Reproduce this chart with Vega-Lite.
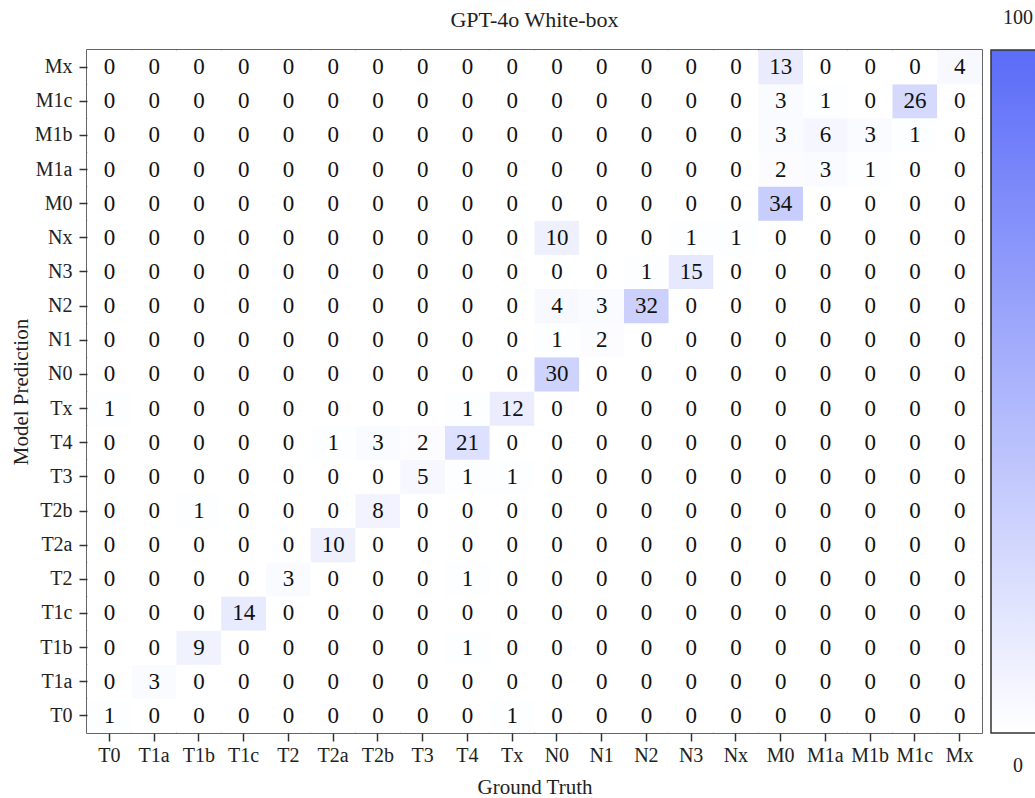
{
  "$schema": "https://vega.github.io/schema/vega-lite/v6.json",
  "autosize": {"type": "none"},
  "padding": {"left": 87, "top": 50, "right": 53, "bottom": 65},
  "width": 895,
  "height": 683,
  "background": "white",
  "title": {"text": "GPT-4o White-box", "font": "Liberation Serif", "fontSize": 22, "fontWeight": "normal", "color": "#222", "offset": 18, "anchor": "middle"},
  "config": {
    "view": {"stroke": "#333", "strokeWidth": 1.5},
    "font": "Liberation Serif"
  },
  "data": {"values": [
{"p":"T0","g":"T0","v":1},{"p":"T0","g":"T1a","v":0},{"p":"T0","g":"T1b","v":0},{"p":"T0","g":"T1c","v":0},{"p":"T0","g":"T2","v":0},{"p":"T0","g":"T2a","v":0},{"p":"T0","g":"T2b","v":0},{"p":"T0","g":"T3","v":0},{"p":"T0","g":"T4","v":0},{"p":"T0","g":"Tx","v":1},{"p":"T0","g":"N0","v":0},{"p":"T0","g":"N1","v":0},{"p":"T0","g":"N2","v":0},{"p":"T0","g":"N3","v":0},{"p":"T0","g":"Nx","v":0},{"p":"T0","g":"M0","v":0},{"p":"T0","g":"M1a","v":0},{"p":"T0","g":"M1b","v":0},{"p":"T0","g":"M1c","v":0},{"p":"T0","g":"Mx","v":0},
{"p":"T1a","g":"T0","v":0},{"p":"T1a","g":"T1a","v":3},{"p":"T1a","g":"T1b","v":0},{"p":"T1a","g":"T1c","v":0},{"p":"T1a","g":"T2","v":0},{"p":"T1a","g":"T2a","v":0},{"p":"T1a","g":"T2b","v":0},{"p":"T1a","g":"T3","v":0},{"p":"T1a","g":"T4","v":0},{"p":"T1a","g":"Tx","v":0},{"p":"T1a","g":"N0","v":0},{"p":"T1a","g":"N1","v":0},{"p":"T1a","g":"N2","v":0},{"p":"T1a","g":"N3","v":0},{"p":"T1a","g":"Nx","v":0},{"p":"T1a","g":"M0","v":0},{"p":"T1a","g":"M1a","v":0},{"p":"T1a","g":"M1b","v":0},{"p":"T1a","g":"M1c","v":0},{"p":"T1a","g":"Mx","v":0},
{"p":"T1b","g":"T0","v":0},{"p":"T1b","g":"T1a","v":0},{"p":"T1b","g":"T1b","v":9},{"p":"T1b","g":"T1c","v":0},{"p":"T1b","g":"T2","v":0},{"p":"T1b","g":"T2a","v":0},{"p":"T1b","g":"T2b","v":0},{"p":"T1b","g":"T3","v":0},{"p":"T1b","g":"T4","v":1},{"p":"T1b","g":"Tx","v":0},{"p":"T1b","g":"N0","v":0},{"p":"T1b","g":"N1","v":0},{"p":"T1b","g":"N2","v":0},{"p":"T1b","g":"N3","v":0},{"p":"T1b","g":"Nx","v":0},{"p":"T1b","g":"M0","v":0},{"p":"T1b","g":"M1a","v":0},{"p":"T1b","g":"M1b","v":0},{"p":"T1b","g":"M1c","v":0},{"p":"T1b","g":"Mx","v":0},
{"p":"T1c","g":"T0","v":0},{"p":"T1c","g":"T1a","v":0},{"p":"T1c","g":"T1b","v":0},{"p":"T1c","g":"T1c","v":14},{"p":"T1c","g":"T2","v":0},{"p":"T1c","g":"T2a","v":0},{"p":"T1c","g":"T2b","v":0},{"p":"T1c","g":"T3","v":0},{"p":"T1c","g":"T4","v":0},{"p":"T1c","g":"Tx","v":0},{"p":"T1c","g":"N0","v":0},{"p":"T1c","g":"N1","v":0},{"p":"T1c","g":"N2","v":0},{"p":"T1c","g":"N3","v":0},{"p":"T1c","g":"Nx","v":0},{"p":"T1c","g":"M0","v":0},{"p":"T1c","g":"M1a","v":0},{"p":"T1c","g":"M1b","v":0},{"p":"T1c","g":"M1c","v":0},{"p":"T1c","g":"Mx","v":0},
{"p":"T2","g":"T0","v":0},{"p":"T2","g":"T1a","v":0},{"p":"T2","g":"T1b","v":0},{"p":"T2","g":"T1c","v":0},{"p":"T2","g":"T2","v":3},{"p":"T2","g":"T2a","v":0},{"p":"T2","g":"T2b","v":0},{"p":"T2","g":"T3","v":0},{"p":"T2","g":"T4","v":1},{"p":"T2","g":"Tx","v":0},{"p":"T2","g":"N0","v":0},{"p":"T2","g":"N1","v":0},{"p":"T2","g":"N2","v":0},{"p":"T2","g":"N3","v":0},{"p":"T2","g":"Nx","v":0},{"p":"T2","g":"M0","v":0},{"p":"T2","g":"M1a","v":0},{"p":"T2","g":"M1b","v":0},{"p":"T2","g":"M1c","v":0},{"p":"T2","g":"Mx","v":0},
{"p":"T2a","g":"T0","v":0},{"p":"T2a","g":"T1a","v":0},{"p":"T2a","g":"T1b","v":0},{"p":"T2a","g":"T1c","v":0},{"p":"T2a","g":"T2","v":0},{"p":"T2a","g":"T2a","v":10},{"p":"T2a","g":"T2b","v":0},{"p":"T2a","g":"T3","v":0},{"p":"T2a","g":"T4","v":0},{"p":"T2a","g":"Tx","v":0},{"p":"T2a","g":"N0","v":0},{"p":"T2a","g":"N1","v":0},{"p":"T2a","g":"N2","v":0},{"p":"T2a","g":"N3","v":0},{"p":"T2a","g":"Nx","v":0},{"p":"T2a","g":"M0","v":0},{"p":"T2a","g":"M1a","v":0},{"p":"T2a","g":"M1b","v":0},{"p":"T2a","g":"M1c","v":0},{"p":"T2a","g":"Mx","v":0},
{"p":"T2b","g":"T0","v":0},{"p":"T2b","g":"T1a","v":0},{"p":"T2b","g":"T1b","v":1},{"p":"T2b","g":"T1c","v":0},{"p":"T2b","g":"T2","v":0},{"p":"T2b","g":"T2a","v":0},{"p":"T2b","g":"T2b","v":8},{"p":"T2b","g":"T3","v":0},{"p":"T2b","g":"T4","v":0},{"p":"T2b","g":"Tx","v":0},{"p":"T2b","g":"N0","v":0},{"p":"T2b","g":"N1","v":0},{"p":"T2b","g":"N2","v":0},{"p":"T2b","g":"N3","v":0},{"p":"T2b","g":"Nx","v":0},{"p":"T2b","g":"M0","v":0},{"p":"T2b","g":"M1a","v":0},{"p":"T2b","g":"M1b","v":0},{"p":"T2b","g":"M1c","v":0},{"p":"T2b","g":"Mx","v":0},
{"p":"T3","g":"T0","v":0},{"p":"T3","g":"T1a","v":0},{"p":"T3","g":"T1b","v":0},{"p":"T3","g":"T1c","v":0},{"p":"T3","g":"T2","v":0},{"p":"T3","g":"T2a","v":0},{"p":"T3","g":"T2b","v":0},{"p":"T3","g":"T3","v":5},{"p":"T3","g":"T4","v":1},{"p":"T3","g":"Tx","v":1},{"p":"T3","g":"N0","v":0},{"p":"T3","g":"N1","v":0},{"p":"T3","g":"N2","v":0},{"p":"T3","g":"N3","v":0},{"p":"T3","g":"Nx","v":0},{"p":"T3","g":"M0","v":0},{"p":"T3","g":"M1a","v":0},{"p":"T3","g":"M1b","v":0},{"p":"T3","g":"M1c","v":0},{"p":"T3","g":"Mx","v":0},
{"p":"T4","g":"T0","v":0},{"p":"T4","g":"T1a","v":0},{"p":"T4","g":"T1b","v":0},{"p":"T4","g":"T1c","v":0},{"p":"T4","g":"T2","v":0},{"p":"T4","g":"T2a","v":1},{"p":"T4","g":"T2b","v":3},{"p":"T4","g":"T3","v":2},{"p":"T4","g":"T4","v":21},{"p":"T4","g":"Tx","v":0},{"p":"T4","g":"N0","v":0},{"p":"T4","g":"N1","v":0},{"p":"T4","g":"N2","v":0},{"p":"T4","g":"N3","v":0},{"p":"T4","g":"Nx","v":0},{"p":"T4","g":"M0","v":0},{"p":"T4","g":"M1a","v":0},{"p":"T4","g":"M1b","v":0},{"p":"T4","g":"M1c","v":0},{"p":"T4","g":"Mx","v":0},
{"p":"Tx","g":"T0","v":1},{"p":"Tx","g":"T1a","v":0},{"p":"Tx","g":"T1b","v":0},{"p":"Tx","g":"T1c","v":0},{"p":"Tx","g":"T2","v":0},{"p":"Tx","g":"T2a","v":0},{"p":"Tx","g":"T2b","v":0},{"p":"Tx","g":"T3","v":0},{"p":"Tx","g":"T4","v":1},{"p":"Tx","g":"Tx","v":12},{"p":"Tx","g":"N0","v":0},{"p":"Tx","g":"N1","v":0},{"p":"Tx","g":"N2","v":0},{"p":"Tx","g":"N3","v":0},{"p":"Tx","g":"Nx","v":0},{"p":"Tx","g":"M0","v":0},{"p":"Tx","g":"M1a","v":0},{"p":"Tx","g":"M1b","v":0},{"p":"Tx","g":"M1c","v":0},{"p":"Tx","g":"Mx","v":0},
{"p":"N0","g":"T0","v":0},{"p":"N0","g":"T1a","v":0},{"p":"N0","g":"T1b","v":0},{"p":"N0","g":"T1c","v":0},{"p":"N0","g":"T2","v":0},{"p":"N0","g":"T2a","v":0},{"p":"N0","g":"T2b","v":0},{"p":"N0","g":"T3","v":0},{"p":"N0","g":"T4","v":0},{"p":"N0","g":"Tx","v":0},{"p":"N0","g":"N0","v":30},{"p":"N0","g":"N1","v":0},{"p":"N0","g":"N2","v":0},{"p":"N0","g":"N3","v":0},{"p":"N0","g":"Nx","v":0},{"p":"N0","g":"M0","v":0},{"p":"N0","g":"M1a","v":0},{"p":"N0","g":"M1b","v":0},{"p":"N0","g":"M1c","v":0},{"p":"N0","g":"Mx","v":0},
{"p":"N1","g":"T0","v":0},{"p":"N1","g":"T1a","v":0},{"p":"N1","g":"T1b","v":0},{"p":"N1","g":"T1c","v":0},{"p":"N1","g":"T2","v":0},{"p":"N1","g":"T2a","v":0},{"p":"N1","g":"T2b","v":0},{"p":"N1","g":"T3","v":0},{"p":"N1","g":"T4","v":0},{"p":"N1","g":"Tx","v":0},{"p":"N1","g":"N0","v":1},{"p":"N1","g":"N1","v":2},{"p":"N1","g":"N2","v":0},{"p":"N1","g":"N3","v":0},{"p":"N1","g":"Nx","v":0},{"p":"N1","g":"M0","v":0},{"p":"N1","g":"M1a","v":0},{"p":"N1","g":"M1b","v":0},{"p":"N1","g":"M1c","v":0},{"p":"N1","g":"Mx","v":0},
{"p":"N2","g":"T0","v":0},{"p":"N2","g":"T1a","v":0},{"p":"N2","g":"T1b","v":0},{"p":"N2","g":"T1c","v":0},{"p":"N2","g":"T2","v":0},{"p":"N2","g":"T2a","v":0},{"p":"N2","g":"T2b","v":0},{"p":"N2","g":"T3","v":0},{"p":"N2","g":"T4","v":0},{"p":"N2","g":"Tx","v":0},{"p":"N2","g":"N0","v":4},{"p":"N2","g":"N1","v":3},{"p":"N2","g":"N2","v":32},{"p":"N2","g":"N3","v":0},{"p":"N2","g":"Nx","v":0},{"p":"N2","g":"M0","v":0},{"p":"N2","g":"M1a","v":0},{"p":"N2","g":"M1b","v":0},{"p":"N2","g":"M1c","v":0},{"p":"N2","g":"Mx","v":0},
{"p":"N3","g":"T0","v":0},{"p":"N3","g":"T1a","v":0},{"p":"N3","g":"T1b","v":0},{"p":"N3","g":"T1c","v":0},{"p":"N3","g":"T2","v":0},{"p":"N3","g":"T2a","v":0},{"p":"N3","g":"T2b","v":0},{"p":"N3","g":"T3","v":0},{"p":"N3","g":"T4","v":0},{"p":"N3","g":"Tx","v":0},{"p":"N3","g":"N0","v":0},{"p":"N3","g":"N1","v":0},{"p":"N3","g":"N2","v":1},{"p":"N3","g":"N3","v":15},{"p":"N3","g":"Nx","v":0},{"p":"N3","g":"M0","v":0},{"p":"N3","g":"M1a","v":0},{"p":"N3","g":"M1b","v":0},{"p":"N3","g":"M1c","v":0},{"p":"N3","g":"Mx","v":0},
{"p":"Nx","g":"T0","v":0},{"p":"Nx","g":"T1a","v":0},{"p":"Nx","g":"T1b","v":0},{"p":"Nx","g":"T1c","v":0},{"p":"Nx","g":"T2","v":0},{"p":"Nx","g":"T2a","v":0},{"p":"Nx","g":"T2b","v":0},{"p":"Nx","g":"T3","v":0},{"p":"Nx","g":"T4","v":0},{"p":"Nx","g":"Tx","v":0},{"p":"Nx","g":"N0","v":10},{"p":"Nx","g":"N1","v":0},{"p":"Nx","g":"N2","v":0},{"p":"Nx","g":"N3","v":1},{"p":"Nx","g":"Nx","v":1},{"p":"Nx","g":"M0","v":0},{"p":"Nx","g":"M1a","v":0},{"p":"Nx","g":"M1b","v":0},{"p":"Nx","g":"M1c","v":0},{"p":"Nx","g":"Mx","v":0},
{"p":"M0","g":"T0","v":0},{"p":"M0","g":"T1a","v":0},{"p":"M0","g":"T1b","v":0},{"p":"M0","g":"T1c","v":0},{"p":"M0","g":"T2","v":0},{"p":"M0","g":"T2a","v":0},{"p":"M0","g":"T2b","v":0},{"p":"M0","g":"T3","v":0},{"p":"M0","g":"T4","v":0},{"p":"M0","g":"Tx","v":0},{"p":"M0","g":"N0","v":0},{"p":"M0","g":"N1","v":0},{"p":"M0","g":"N2","v":0},{"p":"M0","g":"N3","v":0},{"p":"M0","g":"Nx","v":0},{"p":"M0","g":"M0","v":34},{"p":"M0","g":"M1a","v":0},{"p":"M0","g":"M1b","v":0},{"p":"M0","g":"M1c","v":0},{"p":"M0","g":"Mx","v":0},
{"p":"M1a","g":"T0","v":0},{"p":"M1a","g":"T1a","v":0},{"p":"M1a","g":"T1b","v":0},{"p":"M1a","g":"T1c","v":0},{"p":"M1a","g":"T2","v":0},{"p":"M1a","g":"T2a","v":0},{"p":"M1a","g":"T2b","v":0},{"p":"M1a","g":"T3","v":0},{"p":"M1a","g":"T4","v":0},{"p":"M1a","g":"Tx","v":0},{"p":"M1a","g":"N0","v":0},{"p":"M1a","g":"N1","v":0},{"p":"M1a","g":"N2","v":0},{"p":"M1a","g":"N3","v":0},{"p":"M1a","g":"Nx","v":0},{"p":"M1a","g":"M0","v":2},{"p":"M1a","g":"M1a","v":3},{"p":"M1a","g":"M1b","v":1},{"p":"M1a","g":"M1c","v":0},{"p":"M1a","g":"Mx","v":0},
{"p":"M1b","g":"T0","v":0},{"p":"M1b","g":"T1a","v":0},{"p":"M1b","g":"T1b","v":0},{"p":"M1b","g":"T1c","v":0},{"p":"M1b","g":"T2","v":0},{"p":"M1b","g":"T2a","v":0},{"p":"M1b","g":"T2b","v":0},{"p":"M1b","g":"T3","v":0},{"p":"M1b","g":"T4","v":0},{"p":"M1b","g":"Tx","v":0},{"p":"M1b","g":"N0","v":0},{"p":"M1b","g":"N1","v":0},{"p":"M1b","g":"N2","v":0},{"p":"M1b","g":"N3","v":0},{"p":"M1b","g":"Nx","v":0},{"p":"M1b","g":"M0","v":3},{"p":"M1b","g":"M1a","v":6},{"p":"M1b","g":"M1b","v":3},{"p":"M1b","g":"M1c","v":1},{"p":"M1b","g":"Mx","v":0},
{"p":"M1c","g":"T0","v":0},{"p":"M1c","g":"T1a","v":0},{"p":"M1c","g":"T1b","v":0},{"p":"M1c","g":"T1c","v":0},{"p":"M1c","g":"T2","v":0},{"p":"M1c","g":"T2a","v":0},{"p":"M1c","g":"T2b","v":0},{"p":"M1c","g":"T3","v":0},{"p":"M1c","g":"T4","v":0},{"p":"M1c","g":"Tx","v":0},{"p":"M1c","g":"N0","v":0},{"p":"M1c","g":"N1","v":0},{"p":"M1c","g":"N2","v":0},{"p":"M1c","g":"N3","v":0},{"p":"M1c","g":"Nx","v":0},{"p":"M1c","g":"M0","v":3},{"p":"M1c","g":"M1a","v":1},{"p":"M1c","g":"M1b","v":0},{"p":"M1c","g":"M1c","v":26},{"p":"M1c","g":"Mx","v":0},
{"p":"Mx","g":"T0","v":0},{"p":"Mx","g":"T1a","v":0},{"p":"Mx","g":"T1b","v":0},{"p":"Mx","g":"T1c","v":0},{"p":"Mx","g":"T2","v":0},{"p":"Mx","g":"T2a","v":0},{"p":"Mx","g":"T2b","v":0},{"p":"Mx","g":"T3","v":0},{"p":"Mx","g":"T4","v":0},{"p":"Mx","g":"Tx","v":0},{"p":"Mx","g":"N0","v":0},{"p":"Mx","g":"N1","v":0},{"p":"Mx","g":"N2","v":0},{"p":"Mx","g":"N3","v":0},{"p":"Mx","g":"Nx","v":0},{"p":"Mx","g":"M0","v":13},{"p":"Mx","g":"M1a","v":0},{"p":"Mx","g":"M1b","v":0},{"p":"Mx","g":"M1c","v":0},{"p":"Mx","g":"Mx","v":4}
  ]},
  "encoding": {
    "x": {"field": "g", "type": "nominal", "title": "Ground Truth",
      "scale": {"domain": ["T0","T1a","T1b","T1c","T2","T2a","T2b","T3","T4","Tx","N0","N1","N2","N3","Nx","M0","M1a","M1b","M1c","Mx"], "paddingInner": 0, "paddingOuter": 0},
      "axis": {"orient": "bottom", "labelAngle": 0, "domain": false, "tickSize": 8, "tickColor": "#333", "tickWidth": 1.5, "labelFont": "Liberation Serif", "labelFontSize": 20, "labelColor": "#222", "labelPadding": 4, "titleFont": "Liberation Serif", "titleFontSize": 21, "titleFontWeight": "normal", "titleColor": "#222", "titlePadding": 11}},
    "y": {"field": "p", "type": "nominal", "title": "Model Prediction",
      "scale": {"domain": ["Mx","M1c","M1b","M1a","M0","Nx","N3","N2","N1","N0","Tx","T4","T3","T2b","T2a","T2","T1c","T1b","T1a","T0"], "paddingInner": 0, "paddingOuter": 0},
      "axis": {"orient": "left", "domain": false, "tickSize": 8, "tickColor": "#333", "tickWidth": 1.5, "labelFont": "Liberation Serif", "labelFontSize": 20, "labelColor": "#222", "labelPadding": 7, "titleFont": "Liberation Serif", "titleFontSize": 21, "titleFontWeight": "normal", "titleColor": "#222", "titlePadding": 3}}
  },
  "layer": [
    {
      "mark": {"type": "rect"},
      "encoding": {
        "color": {"field": "v", "type": "quantitative",
          "scale": {"domain": [0, 100], "range": ["#ffffff", "#5b6cf8"], "interpolate": "rgb"},
          "legend": {"title": null, "orient": "right", "offset": 9, "padding": 0, "direction": "vertical", "gradientLength": 683, "gradientThickness": 60, "gradientStrokeColor": "#333", "gradientStrokeWidth": 1.5, "values": [0, 100], "labelFont": "Liberation Serif", "labelFontSize": 20, "labelColor": "#222",
            "encode": {"labels": {"update": {"x": {"value": 27}, "y": {"signal": "datum.value > 50 ? -32 : 716"}, "align": {"value": "center"}, "baseline": {"value": "middle"}}}}}
        }
      }
    },
    {
      "mark": {"type": "text", "font": "Liberation Serif", "fontSize": 23, "color": "#111"},
      "encoding": {"text": {"field": "v", "type": "quantitative"}}
    }
  ]
}
